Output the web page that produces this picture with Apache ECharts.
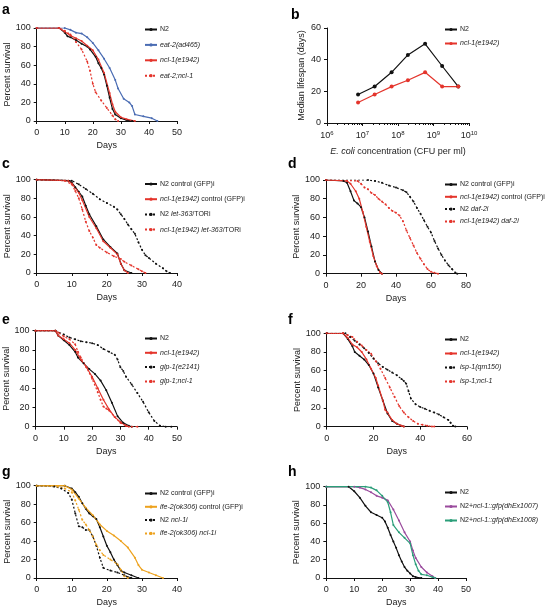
<!DOCTYPE html>
<html>
<head>
<meta charset="utf-8">
<script src="https://cdn.jsdelivr.net/npm/echarts@6/dist/echarts.min.js"></script>
<style>html,body{margin:0;background:#fff}#main{width:554px;height:608px}</style>
</head>
<body>
<div id="main"></div>
<script>
// ---- panel a: survival (day, %)
const aN2 = [[0,100],[8,100],[10,95],[11,91],[12,90],[14,87],[16,83],[18,80],[19,77],[21,69],[22,62],[23,57],[24,50],[25,38],[26,25],[27,13],[28,7],[30,3],[32,1],[34,0]];
const aEat2 = [[0,100],[10,100],[12,98],[14,95],[16,94],[18,90],[20,84],[22,76],[24,67],[26,57],[28,44],[29,35],[31,24],[33,20],[34,16],[35,7],[38,5],[41,3],[43,0]];
const aNcl1 = [[0,100],[8,100],[10,96],[12,92],[14,89],[16,86],[18,81],[20,76],[22,66],[24,52],[26,30],[27,18],[28,10],[30,4],[32,2],[35,0]];
const aEat2Ncl1 = [[0,100],[8,100],[10,97],[12,93],[14,85],[16,77],[18,64],[19,54],[20,40],[21,31],[23,22],[25,14],[27,6],[28,2],[29,0]];

// ---- panel b: median lifespan vs E. coli concentration
const bConc = [7.5e6, 2.2e7, 6.6e7, 1.9e8, 5.8e8, 1.75e9, 5e9];
const bN2 = [18, 23, 32, 43, 50, 36, 23];
const bNcl1 = [13, 18, 23, 27, 32, 23, 23];
// log-scale tick values 1..9 x 10^n
const bTicks = [6, 7, 8, 9].flatMap(e => [1, 2, 3, 4, 5, 6, 7, 8, 9].map(k => k * Math.pow(10, e))).concat([1e10]);

// ---- panel c
const cN2 = [[0,100],[9,99],[10,97],[11,92],[12,87],[13,82],[14,72],[15,63],[17,50],[19,36],[21,28],[23,21],[24,10],[25,3],[27,0]];
const cNcl1 = [[0,100],[9,99],[10,96],[12,86],[13,78],[15,60],[17,48],[19,34],[21,27],[23,20],[24,10],[25,3],[26,0]];
const cN2Tor = [[0,100],[10,99],[12,95],[14,90],[16,85],[18,79],[20,75],[22,71],[23,68],[24,63],[25,58],[26,52],[27,47],[28,42],[29,33],[30,25],[31,19],[32,16],[34,10],[36,5],[37,2],[38,0]];
const cNcl1Tor = [[0,100],[8,99],[10,95],[11,88],[12,80],[13,68],[14,55],[15,45],[16,38],[17,30],[18,27],[20,22],[22,18],[24,15],[25,12],[27,8],[29,4],[30,2],[31,0]];

// ---- panel d
const dN2 = [[0,100],[10,99],[12,97],[14,88],[16,78],[18,75],[20,71],[22,60],[24,45],[26,29],[28,13],[30,4],[32,0]];
const dNcl1 = [[0,100],[12,99],[14,96],[17,88],[19,80],[21,66],[23,50],[25,34],[27,19],[29,8],[31,1],[32,0]];
const dN2Daf2 = [[0,100],[24,100],[28,99],[32,97],[36,94],[40,92],[44,89],[46,87],[48,82],[50,77],[52,70],[54,64],[56,57],[58,50],[60,44],[62,35],[64,27],[66,20],[68,14],[70,9],[72,5],[74,1],[75,0]];
const dNcl1Daf2 = [[0,100],[18,99],[20,96],[22,92],[24,90],[26,86],[28,84],[30,80],[32,77],[34,74],[36,70],[38,67],[40,65],[42,62],[44,56],[46,46],[48,38],[50,30],[52,22],[54,16],[56,10],[58,5],[60,2],[62,1],[64,0]];

// ---- panel e
const eN2 = [[0,100],[7,100],[8,95],[10,90],[12,85],[14,78],[15,72],[17,66],[19,60],[21,55],[23,48],[25,38],[27,25],[29,11],[31,4],[33,1],[34,0]];
const eNcl1 = [[0,100],[7,100],[8,95],[10,91],[12,87],[14,80],[16,70],[18,62],[20,52],[22,40],[24,28],[26,18],[28,10],[30,5],[32,1],[33,0]];
const eGlp1 = [[0,100],[7,100],[10,96],[12,93],[14,91],[16,89],[18,88],[20,87],[22,85],[24,81],[26,78],[28,75],[29,70],[30,62],[31,58],[32,52],[34,44],[36,35],[38,26],[40,15],[42,6],[44,1],[46,0],[48,0]];
const eGlp1Ncl1 = [[0,100],[7,100],[8,98],[10,94],[12,91],[14,86],[15,78],[16,72],[18,62],[20,50],[22,36],[23,28],[24,21],[25,19],[26,17],[28,10],[30,4],[32,1],[34,0],[36,0]];

// ---- panel f
const fN2 = [[0,100],[7,100],[9,94],[11,86],[12,80],[14,76],[16,72],[18,66],[20,57],[22,42],[24,28],[26,14],[28,6],[30,3],[33,0]];
const fNcl1 = [[0,100],[7,100],[9,95],[11,88],[13,85],[15,80],[17,72],[19,62],[21,52],[22,44],[24,28],[25,18],[26,15],[28,7],[30,3],[32,1],[33,0]];
const fIsp1 = [[0,100],[8,100],[10,96],[12,92],[14,88],[16,84],[18,79],[20,73],[22,68],[24,64],[26,61],[28,58],[30,55],[32,51],[33,49],[34,46],[35,38],[36,30],[38,24],[40,21],[42,19],[44,17],[46,15],[48,13],[50,10],[52,7],[53,4],[54,1],[55,0]];
const fIsp1Ncl1 = [[0,100],[7,100],[9,98],[11,96],[13,91],[15,87],[17,82],[19,78],[21,70],[23,62],[25,52],[27,42],[29,32],[31,22],[33,15],[35,10],[37,6],[39,3],[41,2],[43,1],[45,0],[46,0]];

// ---- panel g
const gN2 = [[0,100],[8,100],[10,97],[11,93],[12,88],[13,81],[14,75],[15,70],[16,67],[17,64],[18,55],[19,45],[20,35],[21,28],[22,20],[23,14],[24,8],[25,6],[27,3],[29,0]];
const gIfe2 = [[0,100],[8,100],[10,96],[12,86],[14,76],[16,68],[18,58],[20,51],[22,46],[24,40],[26,33],[28,22],[29,14],[30,9],[32,6],[34,3],[36,0]];
const gN2Ncl1i = [[0,100],[5,99],[7,97],[9,92],[10,85],[11,70],[12,56],[13,55],[14,52],[15,52],[16,45],[17,35],[18,22],[19,11],[21,8],[23,6],[25,3],[26,1],[27,0]];
const gIfe2Ncl1i = [[0,100],[6,99],[8,97],[10,93],[11,84],[12,74],[13,63],[14,58],[15,52],[16,45],[17,36],[18,30],[19,25],[21,20],[23,15],[24,9],[25,2],[26,0]];

// ---- panel h
const hN2 = [[0,100],[8,100],[10,95],[12,88],[14,79],[16,72],[18,69],[20,66],[21,62],[22,55],[23,47],[24,40],[25,33],[26,25],[27,18],[28,12],[29,8],[30,5],[31,2],[32,1],[34,0]];
const hEx1007 = [[0,100],[10,100],[12,99],[14,97],[16,94],[18,90],[20,88],[22,85],[24,75],[26,63],[28,50],[30,40],[31,30],[32,22],[34,12],[36,6],[38,2],[39,0]];
const hEx1008 = [[0,100],[14,100],[16,99],[18,96],[20,90],[22,83],[23,72],[24,58],[26,50],[28,44],[30,38],[31,25],[32,15],[33,8],[34,4],[36,3],[38,1],[39,0]];

const BLACK = '#111', RED = '#e4352c', BLUE = '#4a6cb3', ORANGE = '#eda21e', PURPLE = '#9a4b9d', GREEN = '#2b9e79';
const FONT = 'Liberation Sans, Arial, sans-serif';

// one entry per panel: grid box, x range, legend box, series list
const panels = [
  { letter: 'a', lx: 2, ly: 3, grid: {left: 36.7, top: 28, width: 140.3, height: 93}, xMax: 50, xInt: 10, yGap: 24,
    leg: {left: 144, top: 26, gap: 12.4},
    series: [
      ['N2', aN2, BLACK, false],
      ['{i|eat-2(ad465)}', aEat2, BLUE, false],
      ['{i|ncl-1(e1942)}', aNcl1, RED, false],
      ['{i|eat-2;ncl-1}', aEat2Ncl1, RED, true]
    ]},
  { letter: 'b', lx: 291, ly: 8, grid: {left: 327, top: 28, width: 142, height: 95}, log: true, yGap: 21,
    leg: {left: 444, top: 26, gap: 11},
    series: [
      ['N2', bConc.map((c, i) => [c, bN2[i]]), BLACK, false],
      ['{i|ncl-1(e1942)}', bConc.map((c, i) => [c, bNcl1[i]]), RED, false]
    ]},
  { letter: 'c', lx: 2, ly: 157, grid: {left: 36.7, top: 179.7, width: 140.3, height: 93.3}, xMax: 40, xInt: 10, yGap: 24,
    leg: {left: 144, top: 180.5, gap: 12.2},
    series: [
      ['N2 control (GFP)i', cN2, BLACK, false],
      ['{i|ncl-1(e1942)} control (GFP)i', cNcl1, RED, false],
      ['N2 {i|let-363}/TORi', cN2Tor, BLACK, true],
      ['{i|ncl-1(e1942) let-363}/TORi', cNcl1Tor, RED, true]
    ]},
  { letter: 'd', lx: 288, ly: 157, grid: {left: 326, top: 180, width: 140, height: 93.7}, xMax: 80, xInt: 20, yGap: 24,
    leg: {left: 444, top: 181, gap: 9.3},
    series: [
      ['N2 control (GFP)i', dN2, BLACK, false],
      ['{i|ncl-1(e1942)} control (GFP)i', dNcl1, RED, false],
      ['N2 {i|daf-2i}', dN2Daf2, BLACK, true],
      ['{i|ncl-1(e1942) daf-2i}', dNcl1Daf2, RED, true]
    ]},
  { letter: 'e', lx: 2, ly: 313, grid: {left: 35.5, top: 330.7, width: 141.5, height: 96}, xMax: 50, xInt: 10, yGap: 24,
    leg: {left: 144, top: 335, gap: 11.3},
    series: [
      ['N2', eN2, BLACK, false],
      ['{i|ncl-1(e1942)}', eNcl1, RED, false],
      ['{i|glp-1(e2141)}', eGlp1, BLACK, true],
      ['{i|glp-1;ncl-1}', eGlp1Ncl1, RED, true]
    ]},
  { letter: 'f', lx: 288, ly: 313, grid: {left: 326.7, top: 333.3, width: 140.3, height: 93.3}, xMax: 60, xInt: 20, yGap: 24,
    leg: {left: 444, top: 336, gap: 11},
    series: [
      ['N2', fN2, BLACK, false],
      ['{i|ncl-1(e1942)}', fNcl1, RED, false],
      ['{i|isp-1(qm150)}', fIsp1, BLACK, true],
      ['{i|isp-1;ncl-1}', fIsp1Ncl1, RED, true]
    ]},
  { letter: 'g', lx: 2, ly: 465, grid: {left: 36.7, top: 485.7, width: 140.3, height: 93.3}, xMax: 40, xInt: 10, yGap: 24,
    leg: {left: 144, top: 490, gap: 10.3},
    series: [
      ['N2 control (GFP)i', gN2, BLACK, false],
      ['{i|ife-2(ok306)} control (GFP)i', gIfe2, ORANGE, false],
      ['N2 {i|ncl-1i}', gN2Ncl1i, BLACK, true],
      ['{i|ife-2(ok306) ncl-1i}', gIfe2Ncl1i, ORANGE, true]
    ]},
  { letter: 'h', lx: 288, ly: 465, grid: {left: 326.3, top: 486.7, width: 139.7, height: 93}, xMax: 50, xInt: 10, yGap: 24,
    leg: {left: 444, top: 489, gap: 11},
    series: [
      ['N2', hN2, BLACK, false],
      ['N2+{i|ncl-1::gfp(dhEx1007)}', hEx1007, PURPLE, false],
      ['N2+{i|ncl-1::gfp(dhEx1008)}', hEx1008, GREEN, false]
    ]}
];

const axisLine = {lineStyle: {color: '#111', width: 1}};
const axisTick = {length: 3, lineStyle: {color: '#111', width: 1}};
const label = {fontFamily: FONT, fontSize: 9, color: '#222'};

const grid = [], xAxis = [], yAxis = [], series = [], legend = [], graphic = [];
const labelOf = {};

panels.forEach((p, pi) => {
  grid.push(p.grid);
  if (p.log) {
    xAxis.push({
      gridIndex: pi, type: 'log', logBase: 10, min: 1e6, max: 1e10,
      axisLine: {show: true, onZero: false, lineStyle: {color: '#111', width: 1}},
      axisTick: {show: true, inside: false, length: 3, lineStyle: {color: '#111', width: 1}},
      minorTick: {show: true, splitNumber: 9, length: 2, lineStyle: {color: '#111', width: 1}},
      splitLine: {show: false},
      axisLabel: {
        margin: 7,
        formatter: v => '{b|10}{s|' + Math.round(Math.log10(v)) + '}',
        rich: {
          b: {fontFamily: FONT, fontSize: 9, color: '#222'},
          s: {fontFamily: FONT, fontSize: 6, color: '#222', verticalAlign: 'top', padding: [0, 0, 5, 0]}
        }
      },
      name: '{i|E. coli} concentration (CFU per ml)', nameLocation: 'middle', nameGap: 24,
      nameTextStyle: {fontFamily: FONT, fontSize: 9, color: '#222',
        rich: {i: {fontFamily: FONT, fontSize: 9, color: '#222', fontStyle: 'italic'}}}
    });
    yAxis.push({
      gridIndex: pi, type: 'value', min: 0, max: 60, interval: 20,
      axisLine: {show: true, lineStyle: axisLine.lineStyle}, axisTick: {show: true, length: 3, lineStyle: axisTick.lineStyle},
      splitLine: {show: false}, axisLabel: Object.assign({margin: 6}, label),
      name: 'Median lifespan (days)', nameLocation: 'middle', nameGap: p.yGap,
      nameTextStyle: label
    });
  } else {
    xAxis.push({
      gridIndex: pi, type: 'value', min: 0, max: p.xMax, interval: p.xInt,
      axisLine, axisTick, splitLine: {show: false},
      axisLabel: Object.assign({margin: 7}, label),
      name: 'Days', nameLocation: 'middle', nameGap: 20, nameTextStyle: label
    });
    yAxis.push({
      gridIndex: pi, type: 'value', min: 0, max: 100, interval: 20,
      axisLine: {show: true, lineStyle: axisLine.lineStyle}, axisTick: {show: true, length: 3, lineStyle: axisTick.lineStyle},
      splitLine: {show: false}, axisLabel: Object.assign({margin: 6}, label),
      name: 'Percent survival', nameLocation: 'middle', nameGap: p.yGap, nameTextStyle: label
    });
  }
  const names = [];
  p.series.forEach((s, si) => {
    const name = p.letter + si;
    labelOf[name] = s[0];
    names.push(name);
    series.push({
      name, type: 'line', xAxisIndex: pi, yAxisIndex: pi, data: s[1],
      symbol: 'circle', symbolSize: p.log ? 4 : 2, showSymbol: true,
      color: s[2], itemStyle: {color: s[2]},
      lineStyle: {color: s[2], width: 1.2, type: s[3] ? [2, 2] : 'solid'},
      animation: false, silent: true
    });
  });
  legend.push({
    data: names, left: p.leg.left, top: p.leg.top, orient: 'vertical', padding: 0,
    itemWidth: 12, itemHeight: 4, itemGap: p.leg.gap - 4, selectedMode: false,
    formatter: n => labelOf[n],
    textStyle: {fontFamily: FONT, fontSize: 7, color: '#222', padding: [0, 0, 0, -2],
      rich: {i: {fontFamily: FONT, fontSize: 7, color: '#222', fontStyle: 'italic'}}}
  });
  graphic.push({type: 'text', left: p.lx, top: p.ly,
    style: {text: p.letter, font: 'bold 14px ' + FONT, fill: '#000'}});
});

const chart = echarts.init(document.getElementById('main'), null, {renderer: 'canvas'});
chart.setOption({animation: false, backgroundColor: '#fff', grid, xAxis, yAxis, series, legend, graphic});
</script>
</body>
</html>
